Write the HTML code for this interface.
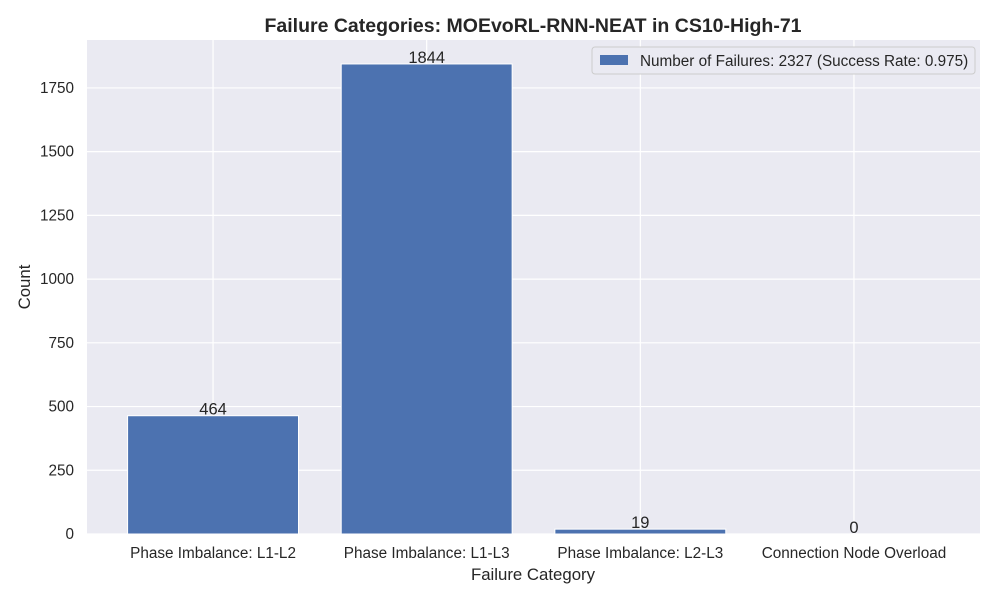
<!DOCTYPE html>
<html><head><meta charset="utf-8"><style>
body{margin:0;background:#fff;font-family:"Liberation Sans",Arial,sans-serif;}
svg text{font-family:"Liberation Sans",Arial,sans-serif;fill:#262626;}
</style></head><body>
<svg id="chart" width="1000" height="600" viewBox="0 0 1000 600">
<rect x="87" y="40" width="893" height="494" fill="#eaeaf2"/>
<g id="grid"></g><g id="bars"></g><g id="labels"></g>
<text x="533" y="32" text-anchor="middle" font-size="19.5" font-weight="bold">Failure Categories: MOEvoRL-RNN-NEAT in CS10-High-71</text>
<text x="533" y="580" text-anchor="middle" font-size="16.8">Failure Category</text>
<text x="30" y="287" text-anchor="middle" font-size="16.8" transform="rotate(-90 30 287)">Count</text>
<g>
<rect x="592" y="47" width="383" height="27" rx="3" fill="#eaeaf2" stroke="#cccccc"/>
<rect x="600" y="55" width="28" height="10" fill="#4c72b0"/>
<text x="640" y="66" font-size="15.3">Number of Failures: 2327 (Success Rate: 0.975)</text>
</g>
</svg>
<script>
const categories=["Phase Imbalance: L1-L2","Phase Imbalance: L1-L3","Phase Imbalance: L2-L3","Connection Node Overload"];
const values=[464,1844,19,0];
const yTicks=[0,250,500,750,1000,1250,1500,1750];
const NS="http://www.w3.org/2000/svg";
const x0=87,x1=980,y0=534,y1=40,xmin=-0.59,xmax=3.59,ymin=0,ymax=1938;
const xs=v=>x0+(v-xmin)/(xmax-xmin)*(x1-x0);
const ys=v=>y0-(v-ymin)/(ymax-ymin)*(y0-y1);
function mk(t,a,p){const e=document.createElementNS(NS,t);for(const k in a)e.setAttribute(k,a[k]);p.appendChild(e);return e;}
const grid=document.getElementById('grid'),bars=document.getElementById('bars'),labels=document.getElementById('labels');
yTicks.forEach(t=>{
 const l=mk('line',{x1:x0,x2:x1,y1:ys(t),y2:ys(t),stroke:'#fff','stroke-width':1.2},grid);
 
 
 const tx=mk('text',{x:x0-13,y:ys(t)+5,'text-anchor':'end','font-size':15.3},grid);tx.textContent=t;
 
 
});
categories.forEach((c,i)=>{
 const l=mk('line',{x1:xs(i),x2:xs(i),y1:y1,y2:y0,stroke:'#fff','stroke-width':1.2},grid);
 
 
 const tx=mk('text',{x:xs(i),y:y0+24,'text-anchor':'middle','font-size':15.3},grid);tx.textContent=c;
 
 
 const w=xs(0.4)-xs(-0.4);
 const b=mk('rect',{x:xs(i-0.4),y:ys(values[i]),width:w,height:ys(0)-ys(values[i]),fill:'#4c72b0',stroke:'#fff','stroke-width':1},bars);
 
 
 const v=mk('text',{x:xs(i),y:ys(values[i])-1,'text-anchor':'middle','font-size':16.5},labels);v.textContent=values[i];
 
 
});
</script>
</body></html>
